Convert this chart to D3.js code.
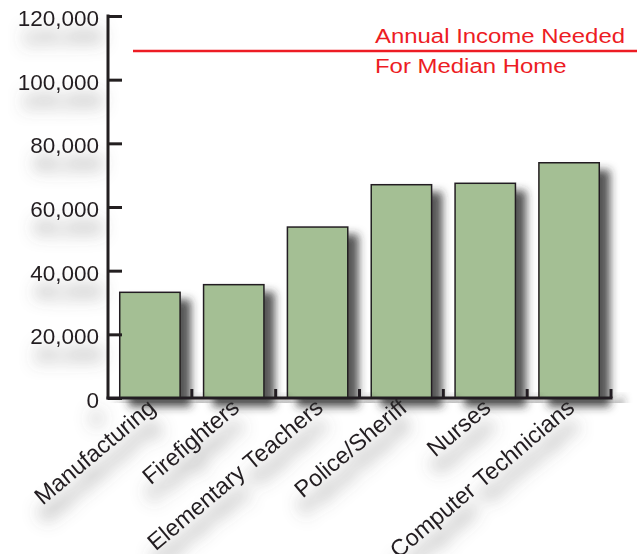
<!DOCTYPE html>
<html>
<head>
<meta charset="utf-8">
<script src="https://cdn.jsdelivr.net/npm/d3@7/dist/d3.min.js"></script>
<style>
  html, body { margin: 0; padding: 0; background: #ffffff; }
  svg { display: block; }
  text { font-family: "Liberation Sans", Arial, Helvetica, sans-serif; }
</style>
</head>
<body>
<div id="chart"></div>
<script>
// ---- data ----
const categories = ["Manufacturing", "Firefighters", "Elementary Teachers", "Police/Sheriff", "Nurses", "Computer Technicians"];
const incomes = [33200, 35600, 53700, 67000, 67450, 73900];
const yTicks = [0, 20000, 40000, 60000, 80000, 100000, 120000];
const neededIncome = 109000;
const neededLabel = ["Annual Income Needed", "For Median Home"];

// ---- layout ----
const W = 644, H = 554;
const ink = "#231f20";
const svg = d3.select("#chart").append("svg").attr("width", W).attr("height", H);

const defs = svg.append("defs");
function shadow(id, blur, dx, dy, color, op) {
  const f = defs.append("filter").attr("id", id)
    .attr("x", "-50%").attr("y", "-50%").attr("width", "200%").attr("height", "200%");
  f.append("feGaussianBlur").attr("in", "SourceAlpha").attr("stdDeviation", blur).attr("result", "b");
  f.append("feOffset").attr("in", "b").attr("dx", dx).attr("dy", dy).attr("result", "o");
  f.append("feFlood").attr("flood-color", color).attr("flood-opacity", op).attr("result", "c");
  f.append("feComposite").attr("in", "c").attr("in2", "o").attr("operator", "in").attr("result", "s");
  const m = f.append("feMerge");
  m.append("feMergeNode").attr("in", "s");
  m.append("feMergeNode").attr("in", "SourceGraphic");
}
shadow("barShadow", 4, 10, 8, "#2b2b2b", 0.8);
shadow("textShadow", 8, 4, 18, "#555555", 0.75);

const x = d3.scaleBand().domain(categories).range([108, 611]).padding(0);
const y = d3.scaleLinear().domain([0, 120000]).range([398, 16]);
const barW = x.bandwidth() * 0.72;

// y labels (shadowed, drawn first so shadows sit underneath)
svg.append("g").attr("filter", "url(#textShadow)")
  .selectAll("text").data(yTicks).join("text")
  .attr("x", 99).attr("y", (d) => y(d)).attr("dy", "0.45em")
  .attr("text-anchor", "end").attr("font-size", 22.5).attr("fill", ink)
  .text((d) => d3.format(",")(d));

// x labels
svg.append("g").attr("filter", "url(#textShadow)")
  .selectAll("text").data(categories).join("text")
  .attr("transform", (d) => `translate(${x(d) + x.bandwidth() / 2 + 7},410) rotate(-40)`)
  .attr("text-anchor", "end").attr("font-size", 23.5).attr("fill", ink)
  .text((d) => d);

// bars
const bars = svg.append("g").attr("filter", "url(#barShadow)");
bars.selectAll("rect").data(categories).join("rect")
  .attr("x", (d) => x(d) + (x.bandwidth() - barW) / 2)
  .attr("y", (d, i) => y(incomes[i]))
  .attr("width", barW)
  .attr("height", (d, i) => y(0) - y(incomes[i]))
  .attr("fill", "#a4bf94")
  .attr("stroke", ink)
  .attr("stroke-width", 1.5);

// y axis
const yAxis = svg.append("g").attr("transform", "translate(108,0)")
  .call(d3.axisRight(y).tickValues(yTicks).tickSize(14).tickFormat(""));
yAxis.select(".domain").remove();
yAxis.selectAll(".tick line").attr("stroke", ink).attr("stroke-width", 3);
svg.append("line").attr("x1", 108).attr("x2", 108).attr("y1", y(120000) - 1.5).attr("y2", y(0) + 1.5)
  .attr("stroke", ink).attr("stroke-width", 3);

// x axis baseline and ticks at band boundaries
const xAxisG = svg.append("g").attr("filter", "url(#barShadow)");
xAxisG.append("line").attr("x1", 106.5).attr("x2", 612.5).attr("y1", y(0)).attr("y2", y(0))
  .attr("stroke", ink).attr("stroke-width", 3);
xAxisG.selectAll("line.tk").data(categories).join("line").attr("class", "tk")
  .attr("x1", (d) => x(d) + x.bandwidth()).attr("x2", (d) => x(d) + x.bandwidth())
  .attr("y1", y(0)).attr("y2", y(0) - 9)
  .attr("stroke", ink).attr("stroke-width", 3);

// reference line
svg.append("line").attr("x1", 133).attr("x2", 637).attr("y1", y(neededIncome)).attr("y2", y(neededIncome))
  .attr("stroke", "#ed1c24").attr("stroke-width", 2.5);
const lbl = svg.append("g").attr("transform", "translate(375,0) scale(1.14,1)");
lbl.selectAll("text").data(neededLabel).join("text")
  .attr("x", 0).attr("y", (d, i) => 43 + i * 30)
  .attr("font-size", 21).attr("fill", "#ed1c24")
  .text((d) => d);
</script>
</body>
</html>
